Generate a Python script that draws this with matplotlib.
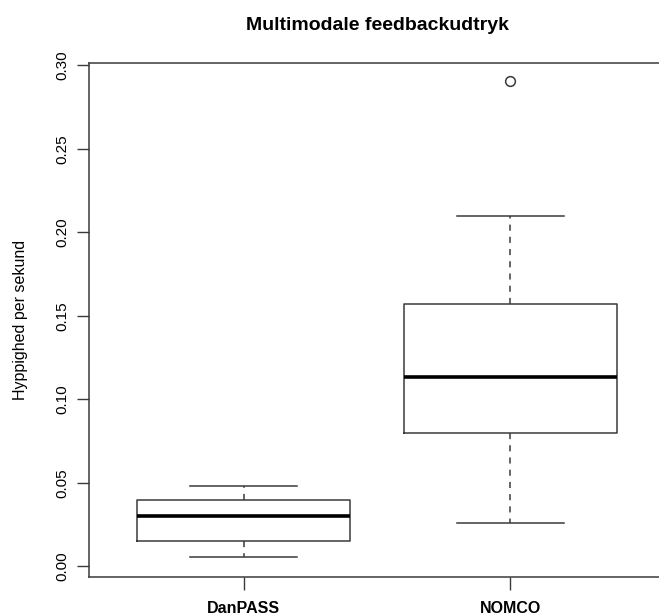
import matplotlib
matplotlib.use("Agg")
import matplotlib.pyplot as plt

plt.rcParams['font.family'] = ['Liberation Sans', 'DejaVu Sans']

# values
groups = ["DanPASS", "NOMCO"]
whisker_low = [0.0055, 0.026]
q1 = [0.015, 0.080]
medians = [0.030, 0.1135]
q3 = [0.0395, 0.157]
whisker_high = [0.048, 0.210]
outliers = [[], [0.2905]]

stats = []
for i, name in enumerate(groups):
    stats.append({
        "label": name,
        "whislo": whisker_low[i],
        "q1": q1[i],
        "med": medians[i],
        "q3": q3[i],
        "whishi": whisker_high[i],
        "fliers": outliers[i],
    })

fig = plt.figure(figsize=(6.59, 6.15), dpi=100)
ax = fig.add_axes([89 / 659, 1 - 577 / 615, 576 / 659, 514 / 615])

line_col = "#3a3a3a"
ax.bxp(stats, positions=[1, 2], widths=0.8,
       boxprops=dict(color=line_col, linewidth=1.1),
       medianprops=dict(color="black", linewidth=2.6),
       whiskerprops=dict(color=line_col, linewidth=1.1, linestyle=(0, (4, 4))),
       capprops=dict(color=line_col, linewidth=1.1),
       flierprops=dict(marker="o", markerfacecolor="white",
                       markeredgecolor=line_col, markersize=7, markeredgewidth=1.1),
       capwidths=0.4)

ax.set_xlim(0.42, 2.58)
ax.set_ylim(-0.0064, 0.3014)
ax.set_yticks([0.00, 0.05, 0.10, 0.15, 0.20, 0.25, 0.30])
ax.set_yticklabels(["0.00", "0.05", "0.10", "0.15", "0.20", "0.25", "0.30"],
                   rotation=90, va="center", fontsize=11)
ax.set_xticks([1, 2])
ax.set_xticklabels(groups, fontsize=11.5, fontweight="bold")
ax.tick_params(length=9, width=1.0, color=line_col, pad=5)
ax.tick_params(axis="x", pad=8)
for s in ax.spines.values():
    s.set_color(line_col)
    s.set_linewidth(1.1)

ax.set_ylabel("Hyppighed per sekund", fontsize=11.5, labelpad=20)
ax.set_title("Multimodale feedbackudtryk", fontsize=14, fontweight="bold", pad=24)

fig.savefig("out.png", dpi=100)
